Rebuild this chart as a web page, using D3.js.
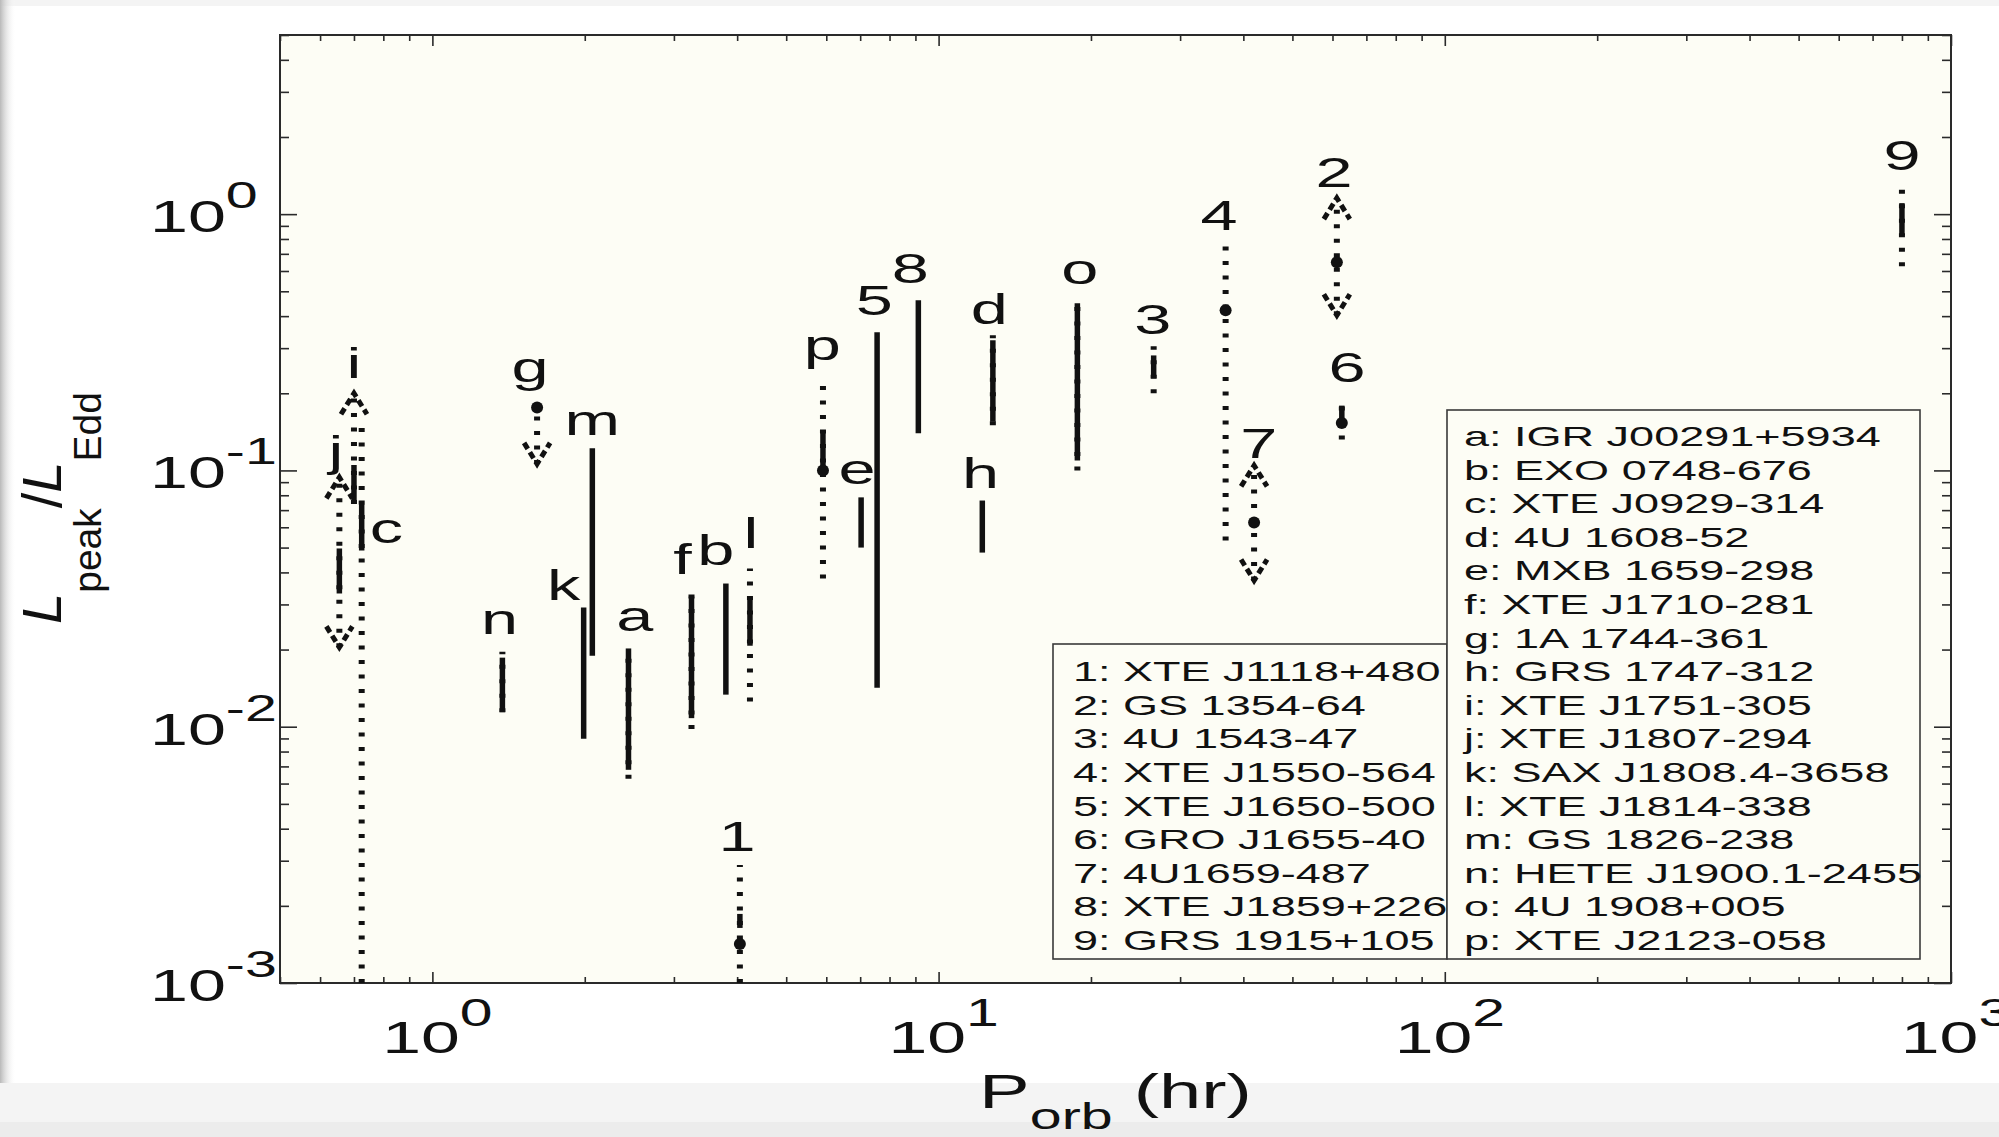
<!DOCTYPE html>
<html>
<head>
<meta charset="utf-8">
<script src="https://cdn.jsdelivr.net/npm/d3@7"></script>
<style>
  body { margin: 0; background: #f3f3f3; }
  svg { display: block; }
  text { font-family: "Liberation Sans", Arial, Helvetica, sans-serif; fill: #111; }
</style>
</head>
<body>
<script>
const width = 1999;
const height = 1137;
const plot = { left: 280, right: 1951, top: 35, bottom: 983 };
// horizontal text in the original figure is widened
const stretch = 1.55;
const legendStretch = 1.58;

// sources: orbital period (hr) and L_peak/L_Edd ranges
const ids       = ["i", "c", "j", "g", "m", "k", "n", "a", "f", "b", "l", "1", "p",
                   "e", "5", "8", "d", "h", "o", "3", "4", "2", "6", "7", "9"];
const porb      = [0.70, 0.725, 0.655, 1.61, 2.07, 1.99, 1.375, 2.44, 3.25, 3.80, 4.24, 4.05, 5.91,
                   7.03, 7.56, 9.12, 12.8, 12.2, 18.8, 26.6, 36.9, 61.2, 62.6, 42.0, 800];
const dottedLo  = [0.074, 0.001, 0.0204, 0.106, null, null, 0.0114, 0.00626, 0.0098, null, 0.01253, 0.001, 0.0379,
                   null, null, null, 0.150, null, 0.100, 0.200, 0.0533, 0.403, 0.132, 0.0372, 0.626];
const dottedHi  = [0.20, 0.157, 0.094, 0.176, null, null, 0.0196, 0.0202, 0.033, null, 0.0414, 0.00289, 0.229,
                   null, null, null, 0.337, null, 0.449, 0.305, 0.770, 1.155, 0.191, 0.1046, 1.286];
const solidLo   = [0.074, 0.0487, 0.0331, null, 0.0189, 0.00898, 0.0114, 0.00679, 0.0108, 0.01334, 0.0207, 0.00164, 0.1027,
                   0.050, 0.0142, 0.1395, 0.155, 0.0478, 0.1094, 0.229, null, null, 0.157, null, 0.828];
const solidHi   = [0.105, 0.074, 0.0496, null, 0.122, 0.0292, 0.0186, 0.0202, 0.0322, 0.0362, 0.0319, 0.00186, 0.143,
                   0.0785, 0.346, 0.461, 0.322, 0.0763, 0.449, 0.281, null, null, 0.179, null, 1.104];
const dotValue  = [null, null, null, 0.176, null, null, null, null, null, null, null, 0.00142, 0.100,
                   null, null, null, null, null, null, null, 0.422, 0.649, 0.153, 0.0626, null];
const upLimit   = [0.20, null, 0.094, null, null, null, null, null, null, null, null, null, null,
                   null, null, null, null, null, null, null, null, 1.155, null, 0.1046, null];
const downLimit = [null, null, 0.0204, 0.106, null, null, null, null, null, null, null, null, null,
                   null, null, null, null, null, null, null, null, 0.403, null, 0.0372, null];
// where each source's letter sits, in data units
const labelP    = [0.70, 0.811, 0.645, 1.56, 2.07, 1.816, 1.357, 2.51, 3.12, 3.63, 4.26, 4.00, 5.89,
                   6.90, 7.46, 8.79, 12.6, 12.1, 19.0, 26.5, 35.8, 60.4, 64.1, 42.9, 800];
const labelL    = [0.229, 0.0523, 0.104, 0.221, 0.137, 0.0311, 0.0231, 0.0237, 0.0396, 0.0426, 0.0496, 0.00328, 0.269,
                   0.0882, 0.403, 0.538, 0.372, 0.0851, 0.533, 0.340, 0.866, 1.275, 0.221, 0.1114, 1.485];

const legendNumbers = ["1: XTE J1118+480", "2: GS 1354-64", "3: 4U 1543-47", "4: XTE J1550-564",
                       "5: XTE J1650-500", "6: GRO J1655-40", "7: 4U1659-487", "8: XTE J1859+226",
                       "9: GRS 1915+105"];
const legendLetters = ["a: IGR J00291+5934", "b: EXO 0748-676", "c: XTE J0929-314", "d: 4U 1608-52",
                       "e: MXB 1659-298", "f: XTE J1710-281", "g: 1A 1744-361", "h: GRS 1747-312",
                       "i: XTE J1751-305", "j: XTE J1807-294", "k: SAX J1808.4-3658", "l: XTE J1814-338",
                       "m: GS 1826-238", "n: HETE J1900.1-2455", "o: 4U 1908+005", "p: XTE J2123-058"];

const xMajor = [1, 10, 100, 1000];
const xExp = ["0", "1", "2", "3"];
const yMajor = [0.001, 0.01, 0.1, 1];
const yExp = ["-3", "-2", "-1", "0"];

const x = d3.scaleLog().domain([0.5, 1000]).range([plot.left, plot.right]);
const y = d3.scaleLog().domain([0.001, 5]).range([plot.bottom, plot.top]);

const svg = d3.select("body").append("svg")
    .attr("width", width)
    .attr("height", height);

// paper with a soft shadow on the left
const grad = svg.append("defs").append("linearGradient")
    .attr("id", "shade").attr("x1", 0).attr("x2", 1).attr("y1", 0).attr("y2", 0);
grad.append("stop").attr("offset", 0).attr("stop-color", "#b9b9b9");
grad.append("stop").attr("offset", 1).attr("stop-color", "#ffffff").attr("stop-opacity", 0);

svg.append("rect").attr("width", width).attr("height", height).attr("fill", "#f4f4f4");
svg.append("rect").attr("y", 6).attr("width", width).attr("height", 1077).attr("fill", "#ffffff");
svg.append("rect").attr("y", 0).attr("width", 16).attr("height", 1083).attr("fill", "url(#shade)");
svg.append("rect").attr("y", 1122).attr("width", width).attr("height", 15).attr("fill", "#ececec");

svg.append("rect")
    .attr("x", plot.left).attr("y", plot.top)
    .attr("width", plot.right - plot.left).attr("height", plot.bottom - plot.top)
    .attr("fill", "#fdfdf5");

// inward ticks on all four sides, minor and major
const xTicks = x.ticks();
const yTicks = y.ticks();
const xMinor = xTicks.filter(v => !xMajor.includes(v));
const yMinor = yTicks.filter(v => !yMajor.includes(v));

function tickAxis(axis, values, size, transform) {
    const g = svg.append("g")
        .attr("transform", transform)
        .call(axis.tickValues(values).tickSize(-size).tickFormat(""));
    g.select(".domain").remove();
    g.selectAll(".tick line").attr("stroke", "#2a2a2a").attr("stroke-width", 1.6);
}
tickAxis(d3.axisBottom(x), xMajor, 11, `translate(0,${plot.bottom})`);
tickAxis(d3.axisBottom(x), xMinor, 6, `translate(0,${plot.bottom})`);
tickAxis(d3.axisTop(x), xMajor, 11, `translate(0,${plot.top})`);
tickAxis(d3.axisTop(x), xMinor, 6, `translate(0,${plot.top})`);
tickAxis(d3.axisLeft(y), yMajor, 17, `translate(${plot.left},0)`);
tickAxis(d3.axisLeft(y), yMinor, 9, `translate(${plot.left},0)`);
tickAxis(d3.axisRight(y), yMajor, 17, `translate(${plot.right},0)`);
tickAxis(d3.axisRight(y), yMinor, 9, `translate(${plot.right},0)`);

svg.append("rect")
    .attr("x", plot.left).attr("y", plot.top)
    .attr("width", plot.right - plot.left).attr("height", plot.bottom - plot.top)
    .attr("fill", "none").attr("stroke", "#2a2a2a").attr("stroke-width", 2);

// tick labels 10^n
const yLab = svg.append("g").selectAll("text").data(yMajor).join("text")
    .attr("transform", d => `translate(150,${y(d) + 18}) scale(${stretch},1)`)
    .style("font-size", "44px");
yLab.append("tspan").text("10");
yLab.append("tspan").attr("dy", -24).style("font-size", "37px").text((d, i) => yExp[i]);

const xLab = svg.append("g").selectAll("text").data(xMajor).join("text")
    .attr("transform", d => `translate(${x(d) + 5},1053) scale(${stretch},1)`)
    .attr("text-anchor", "middle")
    .style("font-size", "45px");
xLab.append("tspan").text("10");
xLab.append("tspan").attr("dy", -27).style("font-size", "38px").text((d, i) => xExp[i]);

// axis titles
const xTitle = svg.append("text")
    .attr("transform", `translate(${(plot.left + plot.right) / 2},1108) scale(${stretch},1)`)
    .attr("text-anchor", "middle")
    .style("font-size", "49px");
xTitle.append("tspan").text("P");
xTitle.append("tspan").attr("dy", 21).style("font-size", "37px").text("orb");
xTitle.append("tspan").attr("dy", -21).text(" (hr)");

const yTitle = svg.append("text")
    .attr("transform", "translate(61,508) rotate(-90)")
    .attr("text-anchor", "middle")
    .style("font-size", "56px");
yTitle.append("tspan").style("font-style", "italic").text("L");
yTitle.append("tspan").attr("dy", 40).style("font-size", "39px").text("peak");
yTitle.append("tspan").attr("dy", -40).text("/");
yTitle.append("tspan").style("font-style", "italic").text("L");
yTitle.append("tspan").attr("dy", 40).style("font-size", "39px").text("Edd");

// marks
const idx = d3.range(ids.length);
const marks = svg.append("g").attr("stroke", "#111").attr("fill", "none");

marks.selectAll(".dotted").data(idx.filter(i => dottedLo[i] !== null)).join("line")
    .attr("x1", i => x(porb[i])).attr("x2", i => x(porb[i]))
    .attr("y1", i => y(dottedLo[i])).attr("y2", i => y(dottedHi[i]))
    .attr("stroke-width", 6)
    .attr("stroke-dasharray", "4 10.5");

marks.selectAll(".solid").data(idx.filter(i => solidLo[i] !== null)).join("line")
    .attr("x1", i => x(porb[i])).attr("x2", i => x(porb[i]))
    .attr("y1", i => y(solidLo[i])).attr("y2", i => y(solidHi[i]))
    .attr("stroke-width", 5.5);

marks.selectAll(".up").data(idx.filter(i => upLimit[i] !== null)).join("path")
    .attr("d", i => {
        const cx = x(porb[i]), cy = y(upLimit[i]);
        return `M${cx - 13},${cy + 21}L${cx},${cy}L${cx + 13},${cy + 21}`;
    })
    .attr("stroke-width", 5)
    .attr("stroke-dasharray", "7 4");

marks.selectAll(".down").data(idx.filter(i => downLimit[i] !== null)).join("path")
    .attr("d", i => {
        const cx = x(porb[i]), cy = y(downLimit[i]);
        return `M${cx - 13},${cy - 21}L${cx},${cy}L${cx + 13},${cy - 21}`;
    })
    .attr("stroke-width", 5)
    .attr("stroke-dasharray", "7 4");

svg.append("g").selectAll("circle").data(idx.filter(i => dotValue[i] !== null)).join("circle")
    .attr("cx", i => x(porb[i]))
    .attr("cy", i => y(dotValue[i]))
    .attr("r", 6)
    .attr("fill", "#111");

svg.append("g").selectAll("text").data(idx).join("text")
    .attr("transform", i => `translate(${x(labelP[i])},${y(labelL[i])}) scale(${stretch},1)`)
    .attr("text-anchor", "middle")
    .style("font-size", "43px")
    .text(i => ids[i]);

// legend, two boxes sharing the lower rows
const boxRight = { x: 1447, y: 410, w: 473, h: 549 };
const boxLeft = { x: 1053, y: 644, w: 394, h: 315 };
const rowStep = 33.6;
const firstRow = boxRight.y + 36;

[boxLeft, boxRight].forEach(b => {
    svg.append("rect")
        .attr("x", b.x).attr("y", b.y).attr("width", b.w).attr("height", b.h)
        .attr("fill", "#fdfdf5").attr("stroke", "#3a3a3a").attr("stroke-width", 1.6);
});

svg.append("g").selectAll("text").data(legendLetters).join("text")
    .attr("transform", (d, k) => `translate(${boxRight.x + 17},${firstRow + k * rowStep}) scale(${legendStretch},1)`)
    .style("font-size", "28.5px")
    .text(d => d);

svg.append("g").selectAll("text").data(legendNumbers).join("text")
    .attr("transform", (d, k) => `translate(${boxLeft.x + 20},${firstRow + (k + 7) * rowStep}) scale(${legendStretch},1)`)
    .style("font-size", "28.5px")
    .text(d => d);
</script>
</body>
</html>
